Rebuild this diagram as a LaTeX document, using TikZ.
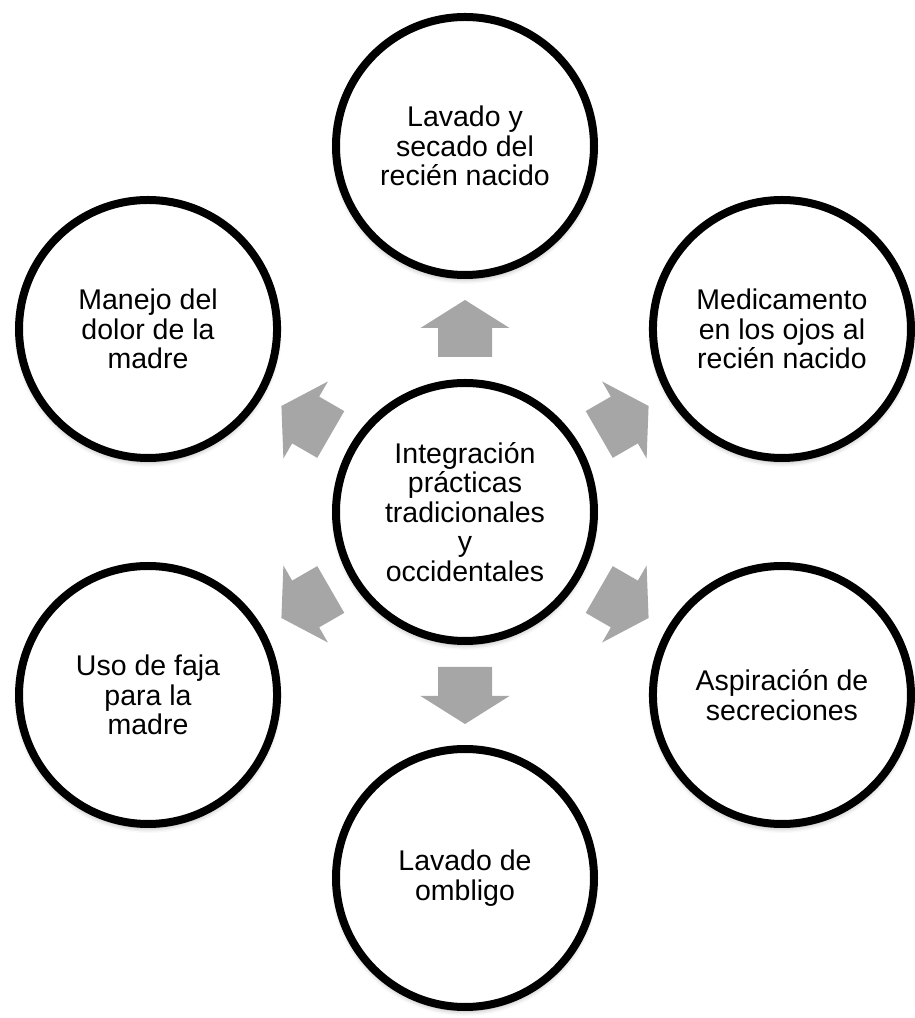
\documentclass[tikz,border=0pt]{standalone}
\usepackage{fontspec}
\setmainfont{Liberation Sans}
\usetikzlibrary{shadows.blur,calc}
\begin{document}
\begin{tikzpicture}[x=1pt,y=1pt,
  bubble/.style={circle, draw=black, line width=8pt, fill=white, minimum size=258pt, inner sep=0pt, align=center,
    font=\fontsize{28.5}{29.5}\selectfont,
    blur shadow={shadow xshift=0pt, shadow yshift=-4pt, shadow blur radius=5pt, shadow opacity=35}},
  blockarrow/.style={fill=black!35, draw=none}]
\useasboundingbox (0,0) rectangle (915,1018);
\node[bubble] (c) at (465,506) {Integración\\prácticas\\tradicionales\\y\\occidentales};
\node[bubble] (top) at ($(c)+(90:366)$) {Lavado y\\secado del\\recién nacido};
\node[bubble] (tr) at ($(c)+(30:366)$) {Medicamento\\en los ojos al\\recién nacido};
\node[bubble] (br) at ($(c)+(-30:366)$) {Aspiración de\\secreciones};
\node[bubble] (bot) at ($(c)+(-90:366)$) {Lavado de\\ombligo};
\node[bubble] (bl) at ($(c)+(210:366)$) {Uso de faja\\para la\\madre};
\node[bubble] (tl) at ($(c)+(150:366)$) {Manejo del\\dolor de la\\madre};
\foreach \a in {90,30,-30,-90,210,150}{
  \fill[blockarrow, shift={(c)}, rotate=\a] (155,-27) -- (184,-27) -- (184,-44.5) -- (212,0) -- (184,44.5) -- (184,27) -- (155,27) -- cycle;
}
\end{tikzpicture}
\end{document}
